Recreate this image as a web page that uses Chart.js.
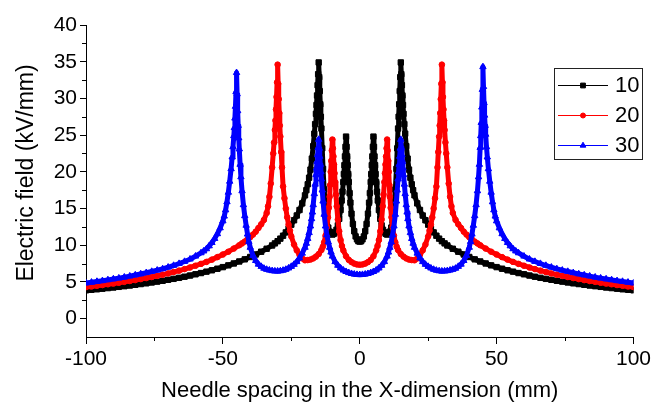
<!DOCTYPE html>
<html>
<head>
<meta charset="utf-8">
<title>Electric field along the needle row</title>
<script src="https://cdn.jsdelivr.net/npm/chart.js@4.4.1/dist/chart.umd.min.js"></script>
<style>
  html, body { margin: 0; padding: 0; background: #fff; }
  #wrap { width: 654px; height: 405px; }
</style>
</head>
<body>
<div id="wrap"><canvas id="fieldChart" width="654" height="405"></canvas></div>
<script>
// needle spacing 10 mm (needles at -15, -5, 5, 15)
const x10 = [
  -100,-98,-96,-94,-92,-90,-88,-86,-84,-82,-80,-78,-76,-74,-72,-70,-68,-66,-64,-62,-60,-58,-56,-54,-52,-50,-48,-46,-44,-42,-40,-38,-36,-34,-32,
  -31,-30,-29,-28,-27,-26,-25,-24,-23,-22,-21,-20,
  -19.5,-19,-18.5,-18,-17.5,-17,-16.6,-16.3,-16,-15.8,-15.6,-15.4,-15.2,-15,
  -14.8,-14.6,-14.4,-14.2,-14,-13.7,-13.4,-13,-12.5,-12,-11.5,-11,-10.5,-10,
  -9.5,-9,-8.5,-8,-7.5,-7,-6.6,-6.3,-6,-5.8,-5.6,-5.4,-5.2,-5,
  -4.8,-4.6,-4.4,-4.2,-4,-3.7,-3.4,-3,-2.5,-2,-1.5,-1,-0.5,0,
  0.5,1,1.5,2,2.5,3,3.4,3.7,4,4.2,4.4,4.6,4.8,5,
  5.2,5.4,5.6,5.8,6,6.3,6.6,7,7.5,8,8.5,9,9.5,10,
  10.5,11,11.5,12,12.5,13,13.4,13.7,14,14.2,14.4,14.6,14.8,15,
  15.2,15.4,15.6,15.8,16,16.3,16.6,17,17.5,18,18.5,19,19.5,20,
  21,22,23,24,25,26,27,28,29,30,31,
  32,34,36,38,40,42,44,46,48,50,52,54,56,58,60,62,64,66,68,70,72,74,76,78,80,82,84,86,88,90,92,94,96,98,100
];
const e10 = [
  3.86,3.93,4.00,4.08,4.16,4.24,4.33,4.42,4.51,4.61,4.71,4.81,4.93,5.04,5.16,5.29,5.42,5.56,5.71,5.87,6.04,6.21,6.40,6.59,6.80,7.02,7.26,7.52,7.79,8.08,8.40,8.74,9.12,9.52,9.97,
  10.25,10.55,10.9,11.3,11.75,12.25,12.8,13.4,14.05,14.8,15.7,16.8,
  17.5,18.3,19.2,20.3,21.8,23.5,25.2,26.5,27.9,29.1,30.4,31.8,33.3,34.9,
  32.9,31.0,29.2,27.5,25.9,23.2,20.4,17.6,15.0,13.4,12.4,11.85,11.55,11.45,
  11.55,11.75,12.1,12.7,13.6,14.8,16.1,17.3,18.6,19.7,20.9,22.1,23.4,24.8,
  23.4,22.1,20.9,19.7,18.6,17.1,15.8,14.3,12.9,11.9,11.2,10.8,10.55,10.5,
  10.55,10.8,11.2,11.9,12.9,14.3,15.8,17.1,18.6,19.7,20.9,22.1,23.4,24.8,
  23.4,22.1,20.9,19.7,18.6,17.3,16.1,14.8,13.6,12.7,12.1,11.75,11.55,11.45,
  11.55,11.85,12.4,13.4,15.0,17.6,20.4,23.2,25.9,27.5,29.2,31.0,32.9,34.9,
  33.3,31.8,30.4,29.1,27.9,26.5,25.2,23.5,21.8,20.3,19.2,18.3,17.5,16.8,
  15.7,14.8,14.05,13.4,12.8,12.25,11.75,11.3,10.9,10.55,10.25,
  9.97,9.52,9.12,8.74,8.40,8.08,7.79,7.52,7.26,7.02,6.80,6.59,6.40,6.21,6.04,5.87,5.71,5.56,5.42,5.29,5.16,5.04,4.93,4.81,4.71,4.61,4.51,4.42,4.33,4.24,4.16,4.08,4.00,3.93,3.86
];

// needle spacing 20 mm (needles at -30, -10, 10, 30)
const x20 = [
  -100,-98,-96,-94,-92,-90,-88,-86,-84,-82,-80,-78,-76,-74,-72,-70,-68,-66,-64,-62,-60,-58,-56,-54,-52,-50,-48,-46,-44,
  -43,-42,-41,-40,-39,-38,-37,-36,-35,-34,
  -33.5,-33,-32.5,-32,-31.6,-31.3,-31,-30.8,-30.6,-30.4,-30.2,-30,
  -29.8,-29.6,-29.4,-29.2,-29,-28.7,-28.4,-28,-27.5,-27,-26.5,-26,-25.5,-25,-24,-23,-22,-21,-20,
  -19,-18,-17,-16,-15,-14,-13.5,-13,-12.5,-12,-11.6,-11.3,-11,-10.8,-10.6,-10.4,-10.2,-10,
  -9.8,-9.6,-9.4,-9.2,-9,-8.7,-8.4,-8,-7.5,-7,-6.5,-6,-5,-4,-3,-2,-1,0,
  1,2,3,4,5,6,6.5,7,7.5,8,8.4,8.7,9,9.2,9.4,9.6,9.8,10,
  10.2,10.4,10.6,10.8,11,11.3,11.6,12,12.5,13,13.5,14,15,16,17,18,19,
  20,21,22,23,24,25,25.5,26,26.5,27,27.5,28,28.4,28.7,29,29.2,29.4,29.6,29.8,
  30,30.2,30.4,30.6,30.8,31,31.3,31.6,32,32.5,33,33.5,
  34,35,36,37,38,39,40,41,42,43,
  44,46,48,50,52,54,56,58,60,62,64,66,68,70,72,74,76,78,80,82,84,86,88,90,92,94,96,98,100
];
const e20 = [
  4.30,4.39,4.48,4.58,4.68,4.78,4.89,5.01,5.13,5.25,5.39,5.53,5.67,5.83,5.99,6.16,6.35,6.54,6.75,6.97,7.21,7.46,7.73,8.04,8.38,8.74,9.12,9.55,10.0,
  10.25,10.5,10.8,11.1,11.45,11.85,12.35,12.85,13.45,14.4,
  15.3,16.6,18.4,20.6,22.5,24.0,25.7,27.0,28.5,30.2,32.2,34.6,
  32.0,29.9,28.0,26.3,24.8,22.7,20.6,18.0,16.4,15.0,13.8,12.8,12.0,11.2,10.1,9.3,8.7,8.2,7.95,
  7.98,8.05,8.2,8.45,8.8,9.35,9.8,10.4,11.3,12.5,13.8,15.1,16.6,18.2,20.0,21.5,22.9,24.4,
  23.2,22.1,21.0,19.8,18.6,16.9,15.3,13.5,11.9,10.7,9.9,9.3,8.5,8.0,7.7,7.5,7.38,7.35,
  7.38,7.5,7.7,8.0,8.5,9.3,9.9,10.7,11.9,13.5,15.3,16.9,18.6,19.8,21.0,22.1,23.2,24.4,
  22.9,21.5,20.0,18.2,16.6,15.1,13.8,12.5,11.3,10.4,9.8,9.35,8.8,8.45,8.2,8.05,7.98,
  7.95,8.2,8.7,9.3,10.1,11.2,12.0,12.8,13.8,15.0,16.4,18.0,20.6,22.7,24.8,26.3,28.0,29.9,32.0,
  34.6,32.2,30.2,28.5,27.0,25.7,24.0,22.5,20.6,18.4,16.6,15.3,
  14.4,13.45,12.85,12.35,11.85,11.45,11.1,10.8,10.5,10.25,
  10.0,9.55,9.12,8.74,8.38,8.04,7.73,7.46,7.21,6.97,6.75,6.54,6.35,6.16,5.99,5.83,5.67,5.53,5.39,5.25,5.13,5.01,4.89,4.78,4.68,4.58,4.48,4.39,4.30
];

// needle spacing 30 mm (needles at -45, -15, 15, 45)
const x30 = [
  -100,-98,-96,-94,-92,-90,-88,-86,-84,-82,-80,-78,-76,-74,-72,-70,-68,-66,-64,-62,-60,-58,
  -57,-56,-55,-54,-53,-52,-51,-50,
  -49.5,-49,-48.5,-48,-47.5,-47,-46.6,-46.3,-46,-45.8,-45.6,-45.4,-45.2,-45,
  -44.8,-44.6,-44.4,-44.2,-44,-43.7,-43.4,-43,-42.5,-42,-41.5,-41,-40.5,-40,-39,-38,-37,-36,-35,-34,-33,-32,-31,-30,
  -29,-28,-27,-26,-25,-24,-23,-22,-21,-20,-19.5,-19,-18.5,-18,-17.6,-17.3,-17,-16.6,-16.3,-16,-15.8,-15.6,-15.4,-15.2,-15,
  -14.8,-14.6,-14.4,-14.2,-14,-13.7,-13.4,-13,-12.5,-12,-11.5,-11,-10.5,-10,-9,-8,-7,-6,-5,-4,-3,-2,-1,0,
  1,2,3,4,5,6,7,8,9,10,10.5,11,11.5,12,12.5,13,13.4,13.7,14,14.2,14.4,14.6,14.8,15,
  15.2,15.4,15.6,15.8,16,16.3,16.6,17,17.3,17.6,18,18.5,19,19.5,20,21,22,23,24,25,26,27,28,29,
  30,31,32,33,34,35,36,37,38,39,40,40.5,41,41.5,42,42.5,43,43.4,43.7,44,44.2,44.4,44.6,44.8,
  45,45.2,45.4,45.6,45.8,46,46.3,46.6,47,47.5,48,48.5,49,49.5,
  50,51,52,53,54,55,56,57,
  58,60,62,64,66,68,70,72,74,76,78,80,82,84,86,88,90,92,94,96,98,100
];
const e30 = [
  4.85,4.95,5.06,5.16,5.28,5.40,5.52,5.65,5.79,5.94,6.09,6.25,6.42,6.59,6.78,7.0,7.24,7.5,7.78,8.1,8.5,8.95,
  9.2,9.5,9.9,10.35,10.9,11.55,12.35,13.3,
  13.95,14.8,15.9,17.2,18.7,20.4,22.0,23.4,24.9,26.0,27.3,28.9,30.9,33.5,
  30.6,28.3,26.3,24.6,23.1,21.0,19.3,17.4,15.5,14.0,12.7,11.5,10.5,9.7,8.6,7.9,7.4,7.1,6.85,6.7,6.6,6.52,6.48,6.47,
  6.5,6.58,6.7,6.88,7.1,7.38,7.75,8.25,8.9,9.7,10.25,10.9,11.7,12.6,13.6,14.5,15.5,17.0,18.3,19.6,20.5,21.4,22.3,23.3,24.4,
  23.2,22.1,21.0,20.0,19.0,17.5,16.0,14.2,12.6,11.4,10.45,9.7,9.05,8.5,7.75,7.25,6.88,6.6,6.4,6.25,6.13,6.05,6.0,5.98,
  6.0,6.05,6.13,6.25,6.4,6.6,6.88,7.25,7.75,8.5,9.05,9.7,10.45,11.4,12.6,14.2,16.0,17.5,19.0,20.0,21.0,22.1,23.2,24.4,
  23.3,22.3,21.4,20.5,19.6,18.3,17.0,15.5,14.5,13.6,12.6,11.7,10.9,10.25,9.7,8.9,8.25,7.75,7.38,7.1,6.88,6.7,6.58,6.5,
  6.47,6.48,6.52,6.6,6.7,6.85,7.1,7.4,7.9,8.6,9.7,10.5,11.5,12.7,14.0,15.5,17.4,19.3,21.0,23.3,24.9,26.7,28.8,31.2,
  34.3,31.6,29.4,27.7,26.3,25.1,23.4,22.0,20.4,18.7,17.2,15.9,14.8,13.95,
  13.3,12.35,11.55,10.9,10.35,9.9,9.5,9.2,
  8.95,8.5,8.1,7.78,7.5,7.24,7.0,6.78,6.59,6.42,6.25,6.09,5.94,5.79,5.65,5.52,5.40,5.28,5.16,5.06,4.95,4.85
];

const seriesNames = ['10', '20', '30'];
const xMinorTicks = [-75, -25, 25, 75];
const yMinorTicks = [2.5, 7.5, 12.5, 17.5, 22.5, 27.5, 32.5, 37.5];
const xTitle = 'Needle spacing in the X-dimension (mm)';
const yTitle = 'Electric field (kV/mm)';

const FONT = '"Liberation Sans", Arial, Helvetica, sans-serif';
Chart.defaults.font.family = FONT;
Chart.defaults.color = '#000';

function pts(xs, ys) {
  return xs.map((x, i) => ({ x: x, y: ys[i] }));
}

function markerPath(ctx, style, r, x, y) {
  ctx.beginPath();
  if (style === 'rect') {
    const s = r * Math.SQRT1_2;
    ctx.rect(x - s, y - s, 2 * s, 2 * s);
  } else if (style === 'circle') {
    ctx.arc(x, y, r, 0, Math.PI * 2);
  } else {
    for (let k = 0; k < 3; k++) {
      const t = k * 2 * Math.PI / 3;
      const px = x + Math.sin(t) * r, py = y - Math.cos(t) * r;
      if (k === 0) ctx.moveTo(px, py); else ctx.lineTo(px, py);
    }
    ctx.closePath();
  }
}

// minor ticks, axis titles and the boxed legend (line + marker per series)
const decorations = {
  id: 'decorations',
  afterDraw(chart) {
    const ctx = chart.ctx;
    const area = chart.chartArea;
    const xs = chart.scales.x, ys = chart.scales.y;
    ctx.save();
    ctx.strokeStyle = '#000';
    ctx.lineWidth = 1;
    ctx.beginPath();
    xMinorTicks.forEach(v => {
      const px = Math.round(xs.getPixelForValue(v)) + 0.5;
      ctx.moveTo(px, area.bottom);
      ctx.lineTo(px, area.bottom + 4);
    });
    yMinorTicks.forEach(v => {
      const py = Math.round(ys.getPixelForValue(v)) + 0.5;
      ctx.moveTo(area.left, py);
      ctx.lineTo(area.left - 4, py);
    });
    ctx.stroke();

    ctx.fillStyle = '#000';
    ctx.textAlign = 'center';
    ctx.textBaseline = 'alphabetic';
    ctx.font = '22px ' + FONT;
    ctx.fillText(xTitle, (area.left + area.right) / 2, 397);
    ctx.save();
    ctx.translate(33, 173);
    ctx.rotate(-Math.PI / 2);
    ctx.font = '23px ' + FONT;
    ctx.fillText(yTitle, 0, 0);
    ctx.restore();

    // legend box
    const bx = 554.5, by = 68.5, bw = 88, bh = 91;
    ctx.strokeStyle = '#222';
    ctx.lineWidth = 1;
    ctx.strokeRect(bx, by, bw, bh);
    ctx.font = '22px ' + FONT;
    ctx.textAlign = 'left';
    ctx.textBaseline = 'middle';
    chart.data.datasets.forEach((ds, i) => {
      const rowY = 85 + i * 30;
      ctx.strokeStyle = ds.borderColor;
      ctx.lineWidth = 1;
      ctx.beginPath();
      ctx.moveTo(558, rowY + 0.5);
      ctx.lineTo(608, rowY + 0.5);
      ctx.stroke();
      ctx.fillStyle = ds.backgroundColor;
      markerPath(ctx, ds.pointStyle, ds.legendRadius, 583, rowY + 0.5);
      ctx.fill();
      ctx.stroke();
      ctx.fillStyle = '#000';
      ctx.fillText(ds.label, 615, rowY + 1);
    });
    ctx.restore();
  }
};

const ctx = document.getElementById('fieldChart');

// the dense marker band is drawn as a thick round-joined line under the markers
const seriesStyle = {
  borderWidth: 5,
  borderJoinStyle: 'round',
  borderCapStyle: 'round',
  pointBorderWidth: 1
};

const fieldChart = new Chart(ctx, {
  type: 'line',
  data: {
    datasets: [
      Object.assign({
        label: seriesNames[0],
        data: pts(x10, e10),
        borderColor: '#000000',
        backgroundColor: '#000000',
        pointStyle: 'rect',
        pointRadius: 3.8,
        legendRadius: 3.4,
        order: 2
      }, seriesStyle),
      Object.assign({
        label: seriesNames[1],
        data: pts(x20, e20),
        borderColor: '#ff0000',
        backgroundColor: '#ff0000',
        pointStyle: 'circle',
        pointRadius: 2.8,
        legendRadius: 2.5,
        order: 1
      }, seriesStyle),
      Object.assign({
        label: seriesNames[2],
        data: pts(x30, e30),
        borderColor: '#0000ff',
        backgroundColor: '#0000ff',
        pointStyle: 'triangle',
        pointRadius: 3.7,
        legendRadius: 3.3,
        order: 0
      }, seriesStyle)
    ]
  },
  options: {
    responsive: false,
    animation: false,
    events: [],
    layout: { padding: { left: 0, right: 20, top: 25, bottom: 0 } },
    plugins: {
      legend: { display: false },
      tooltip: { enabled: false }
    },
    scales: {
      x: {
        type: 'linear',
        min: -100,
        max: 100,
        ticks: { stepSize: 50, font: { size: 21 }, color: '#000', padding: 3, maxRotation: 0, includeBounds: false },
        grid: { drawOnChartArea: false, drawTicks: true, tickLength: 7, color: '#000' },
        border: { display: true, color: '#000', width: 1 },
        afterFit: s => { s.height = 68; }
      },
      y: {
        type: 'linear',
        min: -2.5,
        max: 40,
        ticks: { stepSize: 5, font: { size: 21 }, color: '#000', padding: 3, includeBounds: false },
        grid: { drawOnChartArea: false, drawTicks: true, tickLength: 6, color: '#000' },
        border: { display: true, color: '#000', width: 1 },
        afterFit: s => { s.width = 86; }
      }
    }
  },
  plugins: [decorations]
});
</script>
</body>
</html>
